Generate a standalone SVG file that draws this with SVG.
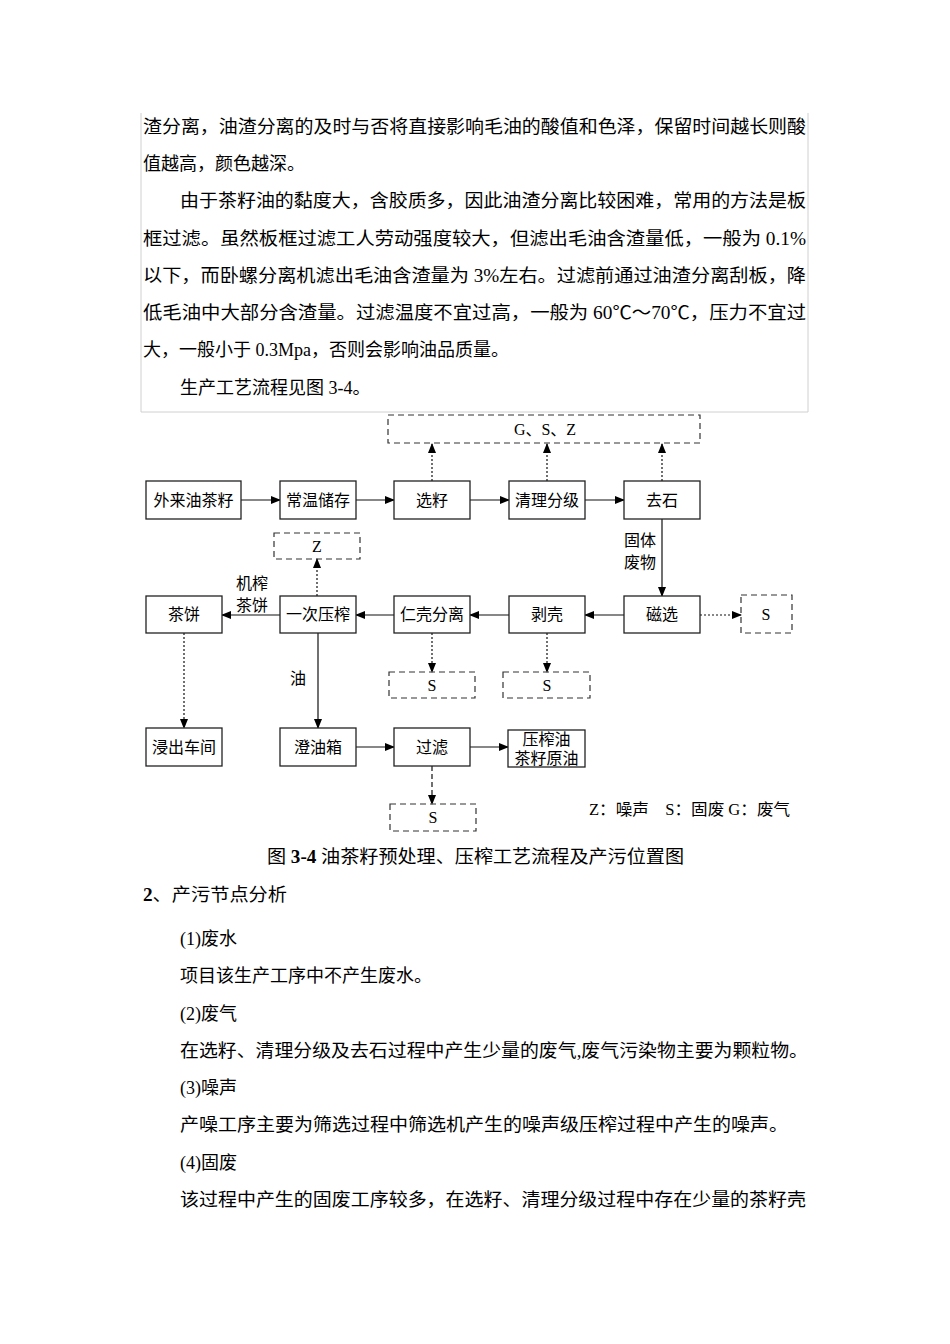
<svg xmlns="http://www.w3.org/2000/svg" width="950" height="1344" viewBox="0 0 950 1344">
<style>
.t{font-family:"Liberation Serif","Noto Sans CJK SC",serif;font-size:18px;fill:#000}
.d{font-family:"Liberation Serif","Noto Sans CJK SC",serif;font-size:16px;fill:#000;text-anchor:middle}
.box{fill:#fff;stroke:#222;stroke-width:1.3}
.dbox{fill:none;stroke:#333;stroke-width:1.2;stroke-dasharray:6,4}
.ln{stroke:#111;stroke-width:1.2;fill:none}
.dot{stroke:#111;stroke-width:1.2;fill:none;stroke-dasharray:2,2}
.dash{stroke:#111;stroke-width:1.2;fill:none;stroke-dasharray:5,3}
</style>
<defs>
<marker id="a" markerWidth="10" markerHeight="8" refX="9" refY="4" orient="auto" markerUnits="userSpaceOnUse">
<path d="M0,0 L10,4 L0,8 Z" fill="#000"/>
</marker>
</defs>
<rect width="950" height="1344" fill="#fff"/>
<path d="M141,113 V412 H808 V113" fill="none" stroke="#d0d0d0" stroke-width="1"/>
<g id="para">
<text class="t" x="143" y="133" textLength="663" lengthAdjust="spacingAndGlyphs">渣分离，油渣分离的及时与否将直接影响毛油的酸值和色泽，保留时间越长则酸</text>
<text class="t" x="143" y="170">值越高，颜色越深。</text>
<text class="t" x="180" y="207" textLength="626" lengthAdjust="spacingAndGlyphs">由于茶籽油的黏度大，含胶质多，因此油渣分离比较困难，常用的方法是板</text>
<text class="t" x="143" y="245" textLength="663" lengthAdjust="spacingAndGlyphs">框过滤。虽然板框过滤工人劳动强度较大，但滤出毛油含渣量低，一般为 0.1%</text>
<text class="t" x="143" y="282" textLength="663" lengthAdjust="spacingAndGlyphs">以下，而卧螺分离机滤出毛油含渣量为 3%左右。过滤前通过油渣分离刮板，降</text>
<text class="t" x="143" y="319" textLength="663" lengthAdjust="spacingAndGlyphs">低毛油中大部分含渣量。过滤温度不宜过高，一般为 60℃～70℃，压力不宜过</text>
<text class="t" x="143" y="356">大，一般小于 0.3Mpa，否则会影响油品质量。</text>
<text class="t" x="180" y="394">生产工艺流程见图 3-4。</text>
</g>
<g id="connectors">
<line class="ln" x1="241" y1="500" x2="280" y2="500" marker-end="url(#a)"/>
<line class="ln" x1="356" y1="500" x2="394" y2="500" marker-end="url(#a)"/>
<line class="ln" x1="470" y1="500" x2="509" y2="500" marker-end="url(#a)"/>
<line class="ln" x1="585" y1="500" x2="624" y2="500" marker-end="url(#a)"/>
<line class="dot" x1="432" y1="481" x2="432" y2="444" marker-end="url(#a)"/>
<line class="dot" x1="547" y1="481" x2="547" y2="444" marker-end="url(#a)"/>
<line class="dot" x1="662" y1="481" x2="662" y2="444" marker-end="url(#a)"/>
<line class="ln" x1="662" y1="519" x2="662" y2="596" marker-end="url(#a)"/>
<line class="dot" x1="700" y1="615" x2="741" y2="615" marker-end="url(#a)"/>
<line class="ln" x1="624" y1="615" x2="585" y2="615" marker-end="url(#a)"/>
<line class="ln" x1="509" y1="615" x2="470" y2="615" marker-end="url(#a)"/>
<line class="ln" x1="394" y1="615" x2="356" y2="615" marker-end="url(#a)"/>
<line class="ln" x1="280" y1="615" x2="222" y2="615" marker-end="url(#a)"/>
<line class="dot" x1="317" y1="596" x2="317" y2="559" marker-end="url(#a)"/>
<line class="dot" x1="432" y1="633" x2="432" y2="672" marker-end="url(#a)"/>
<line class="dot" x1="547" y1="633" x2="547" y2="672" marker-end="url(#a)"/>
<line class="dot" x1="184" y1="633" x2="184" y2="728" marker-end="url(#a)"/>
<line class="ln" x1="318" y1="633" x2="318" y2="728" marker-end="url(#a)"/>
<line class="ln" x1="356" y1="747" x2="394" y2="747" marker-end="url(#a)"/>
<line class="ln" x1="470" y1="747" x2="508" y2="747" marker-end="url(#a)"/>
<line class="dash" x1="432" y1="766" x2="432" y2="804" marker-end="url(#a)"/>
<text class="d" x="640" y="546">固体</text>
<text class="d" x="640" y="568">废物</text>
<text class="d" x="252" y="589">机榨</text>
<text class="d" x="252" y="611">茶饼</text>
<text class="d" x="298" y="684">油</text>
</g>
<g id="n-gsz"><rect class="dbox" x="388" y="415" width="312" height="28"/><text class="d" x="545" y="435">G、S、Z</text></g>
<g id="n-wl"><rect class="box" x="146" y="481" width="95" height="38"/><text class="d" x="193.5" y="506">外来油茶籽</text></g>
<g id="n-cw"><rect class="box" x="280" y="481" width="76" height="38"/><text class="d" x="318" y="506">常温储存</text></g>
<g id="n-xz"><rect class="box" x="394" y="481" width="76" height="38"/><text class="d" x="432" y="506">选籽</text></g>
<g id="n-ql"><rect class="box" x="509" y="481" width="76" height="38"/><text class="d" x="547" y="506">清理分级</text></g>
<g id="n-qs"><rect class="box" x="624" y="481" width="76" height="38"/><text class="d" x="662" y="506">去石</text></g>
<g id="n-z"><rect class="dbox" x="274" y="533" width="86" height="26"/><text class="d" x="317" y="552">Z</text></g>
<g id="n-cb"><rect class="box" x="146" y="596" width="76" height="37"/><text class="d" x="184" y="620">茶饼</text></g>
<g id="n-yc"><rect class="box" x="280" y="596" width="76" height="37"/><text class="d" x="318" y="620">一次压榨</text></g>
<g id="n-rk"><rect class="box" x="394" y="596" width="76" height="37"/><text class="d" x="432" y="620">仁壳分离</text></g>
<g id="n-bk"><rect class="box" x="509" y="596" width="76" height="37"/><text class="d" x="547" y="620">剥壳</text></g>
<g id="n-cx"><rect class="box" x="624" y="596" width="76" height="37"/><text class="d" x="662" y="620">磁选</text></g>
<g id="n-s1"><rect class="dbox" x="741" y="595" width="51" height="38"/><text class="d" x="766" y="620">S</text></g>
<g id="n-s2"><rect class="dbox" x="389" y="672" width="86" height="26"/><text class="d" x="432" y="691">S</text></g>
<g id="n-s3"><rect class="dbox" x="503" y="672" width="87" height="26"/><text class="d" x="547" y="691">S</text></g>
<g id="n-jc"><rect class="box" x="146" y="728" width="76" height="38"/><text class="d" x="184" y="753">浸出车间</text></g>
<g id="n-cy"><rect class="box" x="280" y="728" width="76" height="38"/><text class="d" x="318" y="753">澄油箱</text></g>
<g id="n-gl"><rect class="box" x="394" y="728" width="76" height="38"/><text class="d" x="432" y="753">过滤</text></g>
<g id="n-yz"><rect class="box" x="508" y="730" width="77" height="37"/><text class="d" x="546.5" y="745">压榨油</text><text class="d" x="546.5" y="764">茶籽原油</text></g>
<g id="n-s4"><rect class="dbox" x="390" y="804" width="86" height="27"/><text class="d" x="433" y="823">S</text></g>
<g id="legend"><text class="d" x="589" y="815" style="text-anchor:start" textLength="201" lengthAdjust="spacingAndGlyphs">Z：噪声　S：固废 G：废气</text></g>
<g id="body">
<text class="t" x="267" y="863" textLength="417" lengthAdjust="spacingAndGlyphs">图 <tspan font-weight="bold">3-4</tspan> 油茶籽预处理、压榨工艺流程及产污位置图</text>
<text class="t" x="143" y="901" textLength="144" lengthAdjust="spacingAndGlyphs"><tspan font-weight="bold">2</tspan>、产污节点分析</text>
<text class="t" x="180" y="945">(1)废水</text>
<text class="t" x="180" y="982">项目该生产工序中不产生废水。</text>
<text class="t" x="180" y="1020">(2)废气</text>
<text class="t" x="180" y="1057" textLength="628" lengthAdjust="spacingAndGlyphs">在选籽、清理分级及去石过程中产生少量的废气,废气污染物主要为颗粒物。</text>
<text class="t" x="180" y="1094">(3)噪声</text>
<text class="t" x="180" y="1131" textLength="608" lengthAdjust="spacingAndGlyphs">产噪工序主要为筛选过程中筛选机产生的噪声级压榨过程中产生的噪声。</text>
<text class="t" x="180" y="1169">(4)固废</text>
<text class="t" x="180" y="1206" textLength="626" lengthAdjust="spacingAndGlyphs">该过程中产生的固废工序较多，在选籽、清理分级过程中存在少量的茶籽壳</text>
</g>
</svg>
